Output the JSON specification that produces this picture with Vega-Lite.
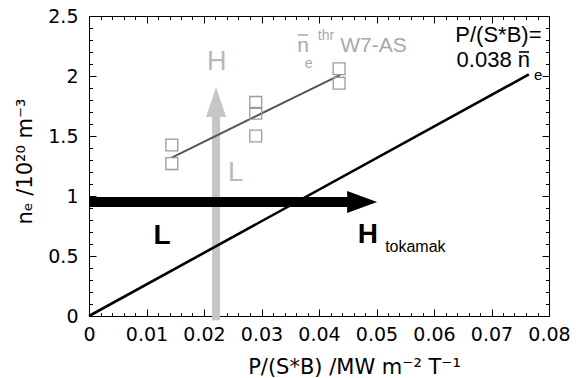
{
  "$schema": "https://vega.github.io/schema/vega-lite/v6.json",
  "width": 460,
  "height": 300,
  "autosize": "none",
  "padding": {"left": 89, "top": 16, "right": 33, "bottom": 62},
  "background": "white",
  "config": {
    "view": {"stroke": null},
    "font": "Liberation Sans",
    "axis": {
      "labelFont": "DejaVu Sans", "titleFont": "DejaVu Sans",
      "labelFontSize": 19, "titleFontSize": 21, "titleFontWeight": "normal",
      "labelColor": "black", "titleColor": "black", "labelOverlap": false, "labelFlush": false, "labelBound": false,
      "domainColor": "black", "tickColor": "black", "grid": false
    }
  },
  "datasets": {
    "squares": [
      {"x": 0.0144, "y": 1.425}, {"x": 0.0144, "y": 1.27},
      {"x": 0.029, "y": 1.78}, {"x": 0.029, "y": 1.69}, {"x": 0.029, "y": 1.5},
      {"x": 0.0435, "y": 2.06}, {"x": 0.0435, "y": 1.94}
    ],
    "fit": [{"x": 0.0144, "y": 1.32}, {"x": 0.0437, "y": 2.01}],
    "limit": [{"x": 0, "y": 0}, {"x": 0.0765, "y": 2.013}],
    "hshaft": [{"x": 0, "x2": 0.0455, "y": 0.95}],
    "hhead": [{"x": 0.0475, "y": 0.95}],
    "vshaft": [{"x": 0.0221, "y": -0.035, "y2": 1.68}],
    "vhead": [{"x": 0.0221, "y": 1.783}],
    "blackbar": [{"x": 0.07478, "x2": 0.07652, "y": 2.2}],
    "graybar": [{"x": 0.0363, "x2": 0.0381, "y": 2.342}]
  },
  "resolve": {"axis": {"x": "independent", "y": "independent"}},
  "layer": [
    {
      "data": {"name": "vshaft"},
      "mark": {"type": "rule", "color": "#c6c6c6", "strokeWidth": 8, "strokeCap": "butt"},
      "encoding": {
        "x": {"field": "x", "type": "quantitative", "scale": {"domain": [0, 0.08], "nice": false},
          "axis": {"orient": "top", "values": [0,0.002,0.004,0.006,0.008,0.01,0.012,0.014,0.016,0.018,0.02,0.022,0.024,0.026,0.028,0.03,0.032,0.034,0.036,0.038,0.04,0.042,0.044,0.046,0.048,0.05,0.052,0.054,0.056,0.058,0.06,0.062,0.064,0.066,0.068,0.07,0.072,0.074,0.076,0.078,0.08], "tickSize": -3.5, "labels": false, "domain": false, "title": null}},
        "y": {"field": "y", "type": "quantitative", "scale": {"domain": [0, 2.5], "nice": false},
          "axis": {"orient": "right", "values": [0,0.1,0.2,0.3,0.4,0.5,0.6,0.7,0.8,0.9,1,1.1,1.2,1.3,1.4,1.5,1.6,1.7,1.8,1.9,2,2.1,2.2,2.3,2.4,2.5], "tickSize": -3.5, "labels": false, "domain": false, "title": null}},
        "y2": {"field": "y2"}
      }
    },
    {
      "data": {"name": "vhead"},
      "mark": {"type": "point", "shape": "M0,-1L0.67,1L-0.67,1Z", "filled": true, "color": "#c6c6c6", "size": 900, "opacity": 1},
      "encoding": {
        "x": {"field": "x", "type": "quantitative", "scale": {"domain": [0, 0.08], "nice": false}, "axis": null},
        "y": {"field": "y", "type": "quantitative", "scale": {"domain": [0, 2.5], "nice": false}, "axis": null}
      }
    },
    {
      "data": {"name": "limit"},
      "mark": {"type": "line", "color": "black", "strokeWidth": 2.6},
      "encoding": {
        "x": {"field": "x", "type": "quantitative", "scale": {"domain": [0, 0.08], "nice": false},
          "axis": {"orient": "bottom", "values": [0,0.002,0.004,0.006,0.008,0.01,0.012,0.014,0.016,0.018,0.02,0.022,0.024,0.026,0.028,0.03,0.032,0.034,0.036,0.038,0.04,0.042,0.044,0.046,0.048,0.05,0.052,0.054,0.056,0.058,0.06,0.062,0.064,0.066,0.068,0.07,0.072,0.074,0.076,0.078,0.08], "tickSize": -3.5, "labels": false, "domain": false, "title": null}},
        "y": {"field": "y", "type": "quantitative", "scale": {"domain": [0, 2.5], "nice": false},
          "axis": {"orient": "left", "values": [0,0.1,0.2,0.3,0.4,0.5,0.6,0.7,0.8,0.9,1,1.1,1.2,1.3,1.4,1.5,1.6,1.7,1.8,1.9,2,2.1,2.2,2.3,2.4,2.5], "tickSize": -3.5, "labels": false, "domain": false, "title": null}}
      }
    },
    {
      "data": {"name": "hshaft"},
      "mark": {"type": "rule", "color": "black", "strokeWidth": 10, "strokeCap": "butt"},
      "encoding": {
        "x": {"field": "x", "type": "quantitative", "scale": {"domain": [0, 0.08], "nice": false}, "axis": null},
        "x2": {"field": "x2"},
        "y": {"field": "y", "type": "quantitative", "scale": {"domain": [0, 2.5], "nice": false}, "axis": null}
      }
    },
    {
      "data": {"name": "hhead"},
      "mark": {"type": "point", "shape": "M1,0L-1,-0.73L-1,0.73Z", "filled": true, "color": "black", "size": 900, "opacity": 1},
      "encoding": {
        "x": {"field": "x", "type": "quantitative", "scale": {"domain": [0, 0.08], "nice": false}, "axis": null},
        "y": {"field": "y", "type": "quantitative", "scale": {"domain": [0, 2.5], "nice": false}, "axis": null}
      }
    },
    {
      "data": {"name": "fit"},
      "mark": {"type": "line", "color": "#555555", "strokeWidth": 2},
      "encoding": {
        "x": {"field": "x", "type": "quantitative", "scale": {"domain": [0, 0.08], "nice": false},
          "axis": {"orient": "top", "values": [0,0.01,0.02,0.03,0.04,0.05,0.06,0.07,0.08], "tickSize": -7, "labels": false, "domain": true, "title": null}},
        "y": {"field": "y", "type": "quantitative", "scale": {"domain": [0, 2.5], "nice": false},
          "axis": {"orient": "right", "values": [0,0.5,1,1.5,2,2.5], "tickSize": -7, "labels": false, "domain": true, "title": null}}
      }
    },
    {
      "data": {"name": "squares"},
      "mark": {"type": "point", "shape": "square", "filled": false, "stroke": "#9a9a9a", "strokeWidth": 1.3, "size": 140, "opacity": 1},
      "encoding": {
        "x": {"field": "x", "type": "quantitative", "scale": {"domain": [0, 0.08], "nice": false},
          "axis": {"orient": "bottom", "values": [0,0.01,0.02,0.03,0.04,0.05,0.06,0.07,0.08], "format": "~g", "tickSize": -7, "labelPadding": 16, "domain": true,
            "title": "P/(S*B) /MW m⁻² T⁻¹", "titleX": 265, "titleY": 40, "titleBaseline": "top", "titleAlign": "center", "titleAnchor": null}},
        "y": {"field": "y", "type": "quantitative", "scale": {"domain": [0, 2.5], "nice": false},
          "axis": {"orient": "left", "values": [0,0.5,1,1.5,2,2.5], "format": "~g", "tickSize": -7, "labelPadding": 18, "domain": true,
            "title": "nₑ /10²⁰ m⁻³", "titleX": -64, "titleY": 145, "titleAngle": -90, "titleBaseline": "middle", "titleAlign": "center", "titleAnchor": null}}
      }
    },
    {
      "data": {"name": "blackbar"},
      "mark": {"type": "rule", "color": "black", "strokeWidth": 1.6, "strokeCap": "butt"},
      "encoding": {
        "x": {"field": "x", "type": "quantitative", "scale": {"domain": [0, 0.08], "nice": false}, "axis": null},
        "x2": {"field": "x2"},
        "y": {"field": "y", "type": "quantitative", "scale": {"domain": [0, 2.5], "nice": false}, "axis": null}
      }
    },
    {
      "data": {"name": "graybar"},
      "mark": {"type": "rule", "color": "#a8a8a8", "strokeWidth": 1.5, "strokeCap": "butt"},
      "encoding": {
        "x": {"field": "x", "type": "quantitative", "scale": {"domain": [0, 0.08], "nice": false}, "axis": null},
        "x2": {"field": "x2"},
        "y": {"field": "y", "type": "quantitative", "scale": {"domain": [0, 2.5], "nice": false}, "axis": null}
      }
    },
    {
      "data": {"values": [{"t": "L", "x": 0.0127, "y": 0.667}, {"t": "H", "x": 0.0485, "y": 0.675}]},
      "mark": {"type": "text", "font": "Liberation Sans", "fontSize": 28, "fontWeight": "bold", "color": "black", "align": "center", "baseline": "middle"},
      "encoding": {
        "x": {"field": "x", "type": "quantitative", "scale": {"domain": [0, 0.08], "nice": false}, "axis": null},
        "y": {"field": "y", "type": "quantitative", "scale": {"domain": [0, 2.5], "nice": false}, "axis": null},
        "text": {"field": "t"}
      }
    },
    {
      "data": {"values": [{"t": "tokamak", "x": 0.0515, "y": 0.533}]},
      "mark": {"type": "text", "font": "Liberation Sans", "fontSize": 16, "color": "black", "align": "left", "baseline": "alphabetic"},
      "encoding": {
        "x": {"field": "x", "type": "quantitative", "scale": {"domain": [0, 0.08], "nice": false}, "axis": null},
        "y": {"field": "y", "type": "quantitative", "scale": {"domain": [0, 2.5], "nice": false}, "axis": null},
        "text": {"field": "t"}
      }
    },
    {
      "data": {"values": [{"t": "H", "x": 0.0222, "y": 2.12}, {"t": "L", "x": 0.0255, "y": 1.19}]},
      "mark": {"type": "text", "font": "Liberation Sans", "fontSize": 27, "color": "#b8b8b8", "align": "center", "baseline": "middle"},
      "encoding": {
        "x": {"field": "x", "type": "quantitative", "scale": {"domain": [0, 0.08], "nice": false}, "axis": null},
        "y": {"field": "y", "type": "quantitative", "scale": {"domain": [0, 2.5], "nice": false}, "axis": null},
        "text": {"field": "t"}
      }
    },
    {
      "data": {"values": [{"t": "P/(S*B)=", "x": 0.0787, "y": 2.283}, {"t": "0.038 n", "x": 0.0767, "y": 2.075}]},
      "mark": {"type": "text", "font": "Liberation Sans", "fontSize": 22, "color": "black", "align": "right", "baseline": "alphabetic"},
      "encoding": {
        "x": {"field": "x", "type": "quantitative", "scale": {"domain": [0, 0.08], "nice": false}, "axis": null},
        "y": {"field": "y", "type": "quantitative", "scale": {"domain": [0, 2.5], "nice": false}, "axis": null},
        "text": {"field": "t"}
      }
    },
    {
      "data": {"values": [{"t": "e", "x": 0.0781, "y": 2.012}]},
      "mark": {"type": "text", "font": "Liberation Sans", "fontSize": 15, "color": "black", "align": "center", "baseline": "middle"},
      "encoding": {
        "x": {"field": "x", "type": "quantitative", "scale": {"domain": [0, 0.08], "nice": false}, "axis": null},
        "y": {"field": "y", "type": "quantitative", "scale": {"domain": [0, 2.5], "nice": false}, "axis": null},
        "text": {"field": "t"}
      }
    },
    {
      "data": {"values": [{"t": "n", "x": 0.0362, "y": 2.2}, {"t": "W7-AS", "x": 0.0437, "y": 2.2}]},
      "mark": {"type": "text", "font": "Liberation Sans", "fontSize": 21, "color": "#a8a8a8", "align": "left", "baseline": "alphabetic"},
      "encoding": {
        "x": {"field": "x", "type": "quantitative", "scale": {"domain": [0, 0.08], "nice": false}, "axis": null},
        "y": {"field": "y", "type": "quantitative", "scale": {"domain": [0, 2.5], "nice": false}, "axis": null},
        "text": {"field": "t"}
      }
    },
    {
      "data": {"values": [{"t": "e", "x": 0.0375, "y": 2.1}, {"t": "thr", "x": 0.0398, "y": 2.33}]},
      "mark": {"type": "text", "font": "Liberation Sans", "fontSize": 14, "color": "#a8a8a8", "align": "left", "baseline": "middle"},
      "encoding": {
        "x": {"field": "x", "type": "quantitative", "scale": {"domain": [0, 0.08], "nice": false}, "axis": null},
        "y": {"field": "y", "type": "quantitative", "scale": {"domain": [0, 2.5], "nice": false}, "axis": null},
        "text": {"field": "t"}
      }
    }
  ]
}
